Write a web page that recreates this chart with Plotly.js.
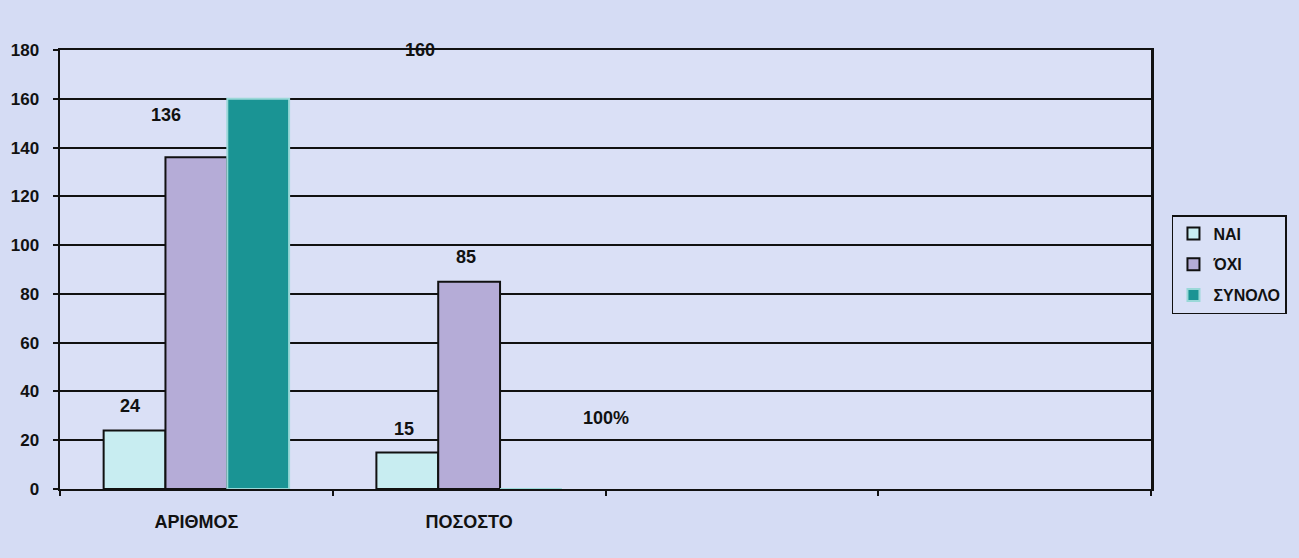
<!DOCTYPE html>
<html><head><meta charset="utf-8">
<script src="https://cdn.plot.ly/plotly-3.0.1.min.js"></script>
<style>html,body{margin:0;padding:0;background:#d5dcf4;}#chart{width:1299px;height:558px;}</style>
</head><body><div id="chart"></div>
<script>
// ---- data ----
const categories = ['ΑΡΙΘΜΟΣ', 'ΠΟΣΟΣΤΟ'];
const emptySlots = ['_c3', '_c4'];
const seriesNames = ['ΝΑΙ', 'ΌΧΙ', 'ΣΥΝΟΛΟ'];
const naiValues = [24, 15];
const oxiValues = [136, 85];
const synoloValues = [160, 0];
const naiLabels = ['24', '15'];
const oxiLabels = ['136', '85'];
const synoloLabels = ['160', '100%'];
const yTickValues = [0, 20, 40, 60, 80, 100, 120, 140, 160, 180];

// ---- style ----
const W = 1299, H = 558;
const margin = {l: 60, r: 146, t: 50, b: 69, pad: 0};
const bargap = 0.32;
const fontFam = '"Liberation Sans", Arial, sans-serif';
const colors = ['#c8edf1', '#b5acd7', '#1a9494'];
const lineColors = ['#111', '#111', '#9ad8d8'];
// label pixel offsets [dx, dy-above-bar-top] per series, per category
const labelShift = [
  [[-4, 24], [-3, 23]],
  [[-30, 42], [-3, 25]],
  [[162, 49], [75, 71]]
];

const allCats = categories.concat(emptySlots);
const values = [naiValues, oxiValues, synoloValues];
const labels = [naiLabels, oxiLabels, synoloLabels];

const traces = seriesNames.map((name, s) => ({
  type: 'bar', name: name, x: categories, y: values[s],
  legendgroup: 'g' + s,
  marker: {color: colors[s], line: {color: lineColors[s], width: 2}},
  hoverinfo: 'x+y'
}));

const plotW = W - margin.l - margin.r;
const catW = plotW / allCats.length;
const barPx = (1 - bargap) * catW / seriesNames.length;

const annotations = [];
seriesNames.forEach((name, s) => {
  categories.forEach((c, j) => {
    annotations.push({
      x: c, y: values[s][j], xref: 'x', yref: 'y',
      text: labels[s][j], showarrow: false,
      xanchor: 'center', yanchor: 'middle',
      xshift: (s - 1) * barPx + labelShift[s][j][0],
      yshift: labelShift[s][j][1],
      font: {family: fontFam, size: 18, color: '#111', weight: 'bold'}
    });
  });
});

const layout = {
  width: W, height: H, margin: margin,
  paper_bgcolor: '#d5dcf4', plot_bgcolor: '#dae0f6',
  barmode: 'group', bargap: bargap, bargroupgap: 0,
  font: {family: fontFam, size: 17, color: '#111', weight: 'bold'},
  xaxis: {
    type: 'category', categoryorder: 'array', categoryarray: allCats,
    range: [-0.5, allCats.length - 0.5],
    tickmode: 'array', tickvals: allCats,
    ticktext: categories.concat(emptySlots.map(() => '')),
    tickson: 'boundaries', ticks: 'outside', ticklen: 5, tickwidth: 2, tickcolor: '#111',
    ticklabelstandoff: 15,
    showline: true, linecolor: '#111', linewidth: 2, mirror: true,
    showgrid: false, zeroline: false,
    tickfont: {family: fontFam, size: 18, color: '#111', weight: 'bold'}
  },
  yaxis: {
    range: [0, 180], tickmode: 'array', tickvals: yTickValues,
    ticks: 'outside', ticklen: 5, tickwidth: 2, tickcolor: '#111',
    ticklabelstandoff: 10,
    showline: true, linecolor: '#111', linewidth: 2.5, mirror: true,
    showgrid: true, gridcolor: '#111', gridwidth: 2, zeroline: false,
    tickfont: {family: fontFam, size: 17, color: '#111', weight: 'bold'}
  },
  legend: {
    x: (1174 - margin.l) / plotW, xanchor: 'left',
    y: (H - margin.b - 215) / (H - margin.t - margin.b), yanchor: 'top',
    bgcolor: '#d9e0f6', bordercolor: '#111', borderwidth: 1.5,
    tracegroupgap: 7, itemwidth: 30,
    font: {family: fontFam, size: 16, color: '#111', weight: 'bold'}
  },
  annotations: annotations,
  showlegend: true
};

Plotly.newPlot('chart', traces, layout, {displayModeBar: false, staticPlot: true});
</script></body></html>
